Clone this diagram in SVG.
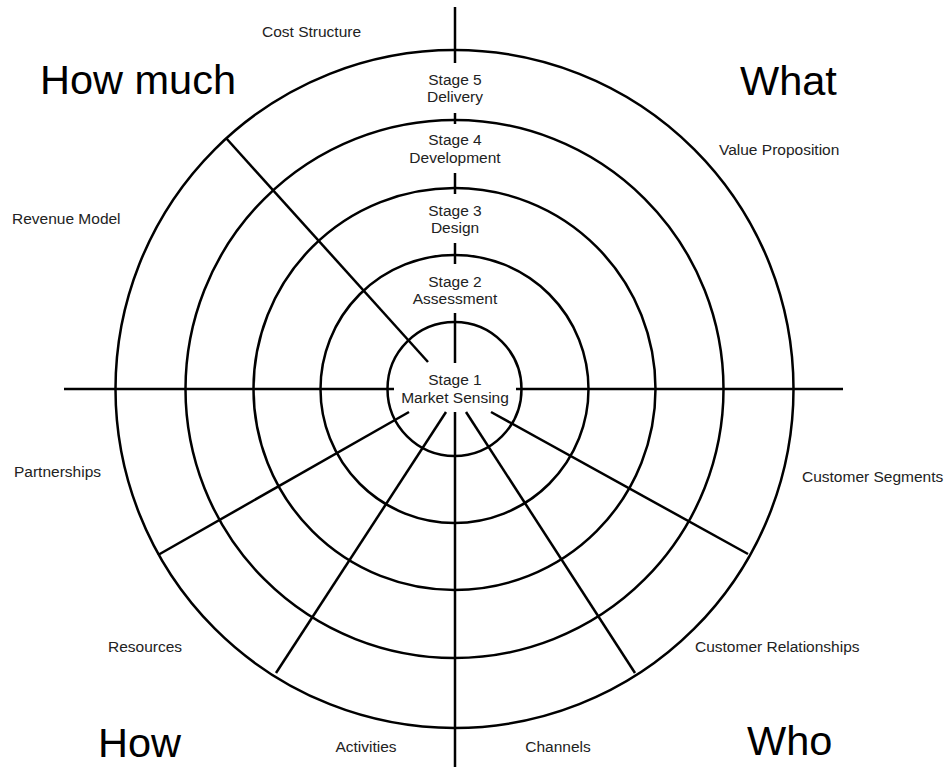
<svg xmlns="http://www.w3.org/2000/svg" width="948" height="767" viewBox="0 0 948 767">
<style>
  .ring { fill: none; stroke: #000; stroke-width: 2.5; }
  .ln { stroke: #000; stroke-width: 2.5; fill: none; }
  .lbl { font-family: "Liberation Sans", Arial, sans-serif; font-size: 15.5px; fill: #222; }
  .mid { text-anchor: middle; }
  .big { font-family: "Liberation Sans", Arial, sans-serif; font-size: 41.5px; fill: #000; }
</style>
<rect width="948" height="767" fill="#fff"/>
<g id="rings">
  <circle class="ring" cx="454.5" cy="389" r="339"/>
  <circle class="ring" cx="454.5" cy="389" r="269"/>
  <circle class="ring" cx="454.5" cy="389" r="201"/>
  <circle class="ring" cx="454.5" cy="389" r="134"/>
  <circle class="ring" cx="454.5" cy="389" r="67"/>
</g>
<g id="connectors">
  <line class="ln" x1="455" y1="7" x2="455" y2="63"/>
  <line class="ln" x1="455" y1="113" x2="455" y2="124"/>
  <line class="ln" x1="455" y1="173" x2="455" y2="194"/>
  <line class="ln" x1="455" y1="243" x2="455" y2="264"/>
  <line class="ln" x1="455" y1="313" x2="455" y2="363"/>
  <line class="ln" x1="455" y1="412" x2="455" y2="767"/>
  <line class="ln" x1="64" y1="389" x2="394" y2="389"/>
  <line class="ln" x1="516" y1="389" x2="843" y2="389"/>
  <line class="ln" x1="226" y1="138" x2="428" y2="362"/>
  <line class="ln" x1="158" y1="555" x2="409" y2="412"/>
  <line class="ln" x1="276" y1="673" x2="446" y2="412"/>
  <line class="ln" x1="635" y1="673" x2="466" y2="412"/>
  <line class="ln" x1="748" y1="554" x2="491" y2="412"/>
</g>
<g id="stage1"><text class="lbl mid" x="455" y="385">Stage 1</text><text class="lbl mid" x="455" y="403">Market Sensing</text></g>
<g id="stage2"><text class="lbl mid" x="455" y="287">Stage 2</text><text class="lbl mid" x="455" y="304">Assessment</text></g>
<g id="stage3"><text class="lbl mid" x="455" y="216">Stage 3</text><text class="lbl mid" x="455" y="233">Design</text></g>
<g id="stage4"><text class="lbl mid" x="455" y="145">Stage 4</text><text class="lbl mid" x="455" y="163">Development</text></g>
<g id="stage5"><text class="lbl mid" x="455" y="85">Stage 5</text><text class="lbl mid" x="455" y="102">Delivery</text></g>
<g id="segments">
  <text class="lbl" x="262" y="37">Cost Structure</text>
  <text class="lbl" x="719" y="155">Value Proposition</text>
  <text class="lbl" x="12" y="224">Revenue Model</text>
  <text class="lbl" x="14" y="477">Partnerships</text>
  <text class="lbl" x="802" y="482">Customer Segments</text>
  <text class="lbl" x="108" y="652">Resources</text>
  <text class="lbl" x="695" y="652">Customer Relationships</text>
  <text class="lbl mid" x="366" y="752">Activities</text>
  <text class="lbl mid" x="558" y="752">Channels</text>
</g>
<g id="quadrants">
  <text class="big" x="40" y="94">How much</text>
  <text class="big" x="740" y="95">What</text>
  <text class="big" x="98" y="757">How</text>
  <text class="big" x="747" y="755">Who</text>
</g>
</svg>
